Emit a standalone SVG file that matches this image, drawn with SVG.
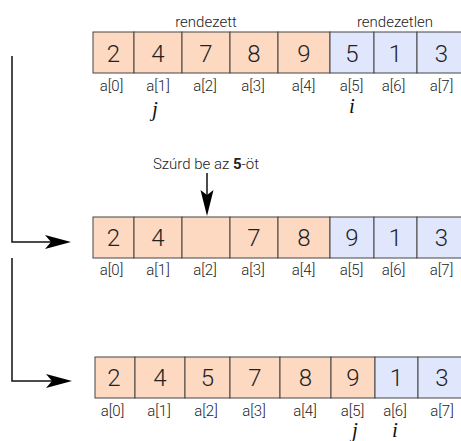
<svg xmlns="http://www.w3.org/2000/svg" width="461" height="441" viewBox="0 0 461 441">
  <style>
    .org { fill: #fdd9c2; stroke: #444; stroke-width: 1; }
    .blu { fill: #e0e7fd; stroke: #444; stroke-width: 1; }
    .num { font-family: Roboto, "Liberation Sans", sans-serif; font-weight: 300; font-size: 24px; fill: #222; text-anchor: middle; }
    .idx { font-family: Roboto, "Liberation Sans", sans-serif; font-weight: 300; font-size: 15px; fill: #222; text-anchor: middle; }
    .lbl { font-family: Roboto, "Liberation Sans", sans-serif; font-weight: 300; font-size: 15px; fill: #222; text-anchor: middle; }
    .var { font-family: "Liberation Serif", "DejaVu Serif", serif; font-style: italic; font-size: 21px; fill: #111; text-anchor: middle; }
    .line { fill: none; stroke: #111; stroke-width: 1.5; }
    .head { fill: #000; stroke: none; }
  </style>

  <!-- row 1: sorted part a[0..4], unsorted a[5..7] -->
  <g id="row1">
    <text class="lbl" x="206" y="27">rendezett</text>
    <text class="lbl" x="395" y="27">rendezetlen</text>
    <rect class="org" x="93" y="32" width="41" height="41"/>
    <rect class="org" x="134" y="32" width="48" height="41"/>
    <rect class="org" x="182" y="32" width="48" height="41"/>
    <rect class="org" x="230" y="32" width="48" height="41"/>
    <rect class="org" x="278" y="32" width="52" height="41"/>
    <rect class="blu" x="330" y="32" width="44" height="41"/>
    <rect class="blu" x="374" y="32" width="43" height="41"/>
    <rect class="blu" x="417" y="32" width="49" height="41"/>
    <text class="num" x="113.5" y="62">2</text>
    <text class="num" x="158" y="62">4</text>
    <text class="num" x="206" y="62">7</text>
    <text class="num" x="254" y="62">8</text>
    <text class="num" x="304" y="62">9</text>
    <text class="num" x="352" y="62">5</text>
    <text class="num" x="395.5" y="62">1</text>
    <text class="num" x="441.5" y="62">3</text>
    <text class="idx" x="111.5" y="91">a[0]</text>
    <text class="idx" x="158" y="91">a[1]</text>
    <text class="idx" x="205" y="91">a[2]</text>
    <text class="idx" x="253" y="91">a[3]</text>
    <text class="idx" x="303.5" y="91">a[4]</text>
    <text class="idx" x="351.5" y="91">a[5]</text>
    <text class="idx" x="393.5" y="91">a[6]</text>
    <text class="idx" x="441.5" y="91">a[7]</text>
    <text class="var" x="155" y="116">j</text>
    <text class="var" x="352" y="113">i</text>
  </g>

  <!-- row 2: gap opened at a[2] -->
  <g id="row2">
    <text class="lbl" x="206" y="169">Szúrd be az <tspan font-weight="700">5</tspan>-öt</text>
    <rect class="org" x="93" y="217" width="41" height="41"/>
    <rect class="org" x="134" y="217" width="48" height="41"/>
    <rect class="org" x="182" y="217" width="48" height="41"/>
    <rect class="org" x="230" y="217" width="48" height="41"/>
    <rect class="org" x="278" y="217" width="52" height="41"/>
    <rect class="blu" x="330" y="217" width="44" height="41"/>
    <rect class="blu" x="374" y="217" width="43" height="41"/>
    <rect class="blu" x="417" y="217" width="49" height="41"/>
    <text class="num" x="113.5" y="246">2</text>
    <text class="num" x="158" y="246">4</text>
    <text class="num" x="254" y="246">7</text>
    <text class="num" x="304" y="246">8</text>
    <text class="num" x="352" y="246">9</text>
    <text class="num" x="395.5" y="246">1</text>
    <text class="num" x="441.5" y="246">3</text>
    <text class="idx" x="111.5" y="275">a[0]</text>
    <text class="idx" x="158" y="275">a[1]</text>
    <text class="idx" x="205" y="275">a[2]</text>
    <text class="idx" x="253" y="275">a[3]</text>
    <text class="idx" x="303.5" y="275">a[4]</text>
    <text class="idx" x="351.5" y="275">a[5]</text>
    <text class="idx" x="393.5" y="275">a[6]</text>
    <text class="idx" x="441.5" y="275">a[7]</text>
  </g>

  <!-- row 3: 5 inserted, sorted part a[0..5] -->
  <g id="row3">
    <rect class="org" x="95" y="357" width="40" height="41"/>
    <rect class="org" x="135" y="357" width="50" height="41"/>
    <rect class="org" x="185" y="357" width="45" height="41"/>
    <rect class="org" x="230" y="357" width="50" height="41"/>
    <rect class="org" x="280" y="357" width="51" height="41"/>
    <rect class="org" x="331" y="357" width="44" height="41"/>
    <rect class="blu" x="375" y="357" width="43" height="41"/>
    <rect class="blu" x="418" y="357" width="48" height="41"/>
    <text class="num" x="114" y="386">2</text>
    <text class="num" x="160" y="386">4</text>
    <text class="num" x="207.5" y="386">5</text>
    <text class="num" x="255" y="386">7</text>
    <text class="num" x="305.5" y="386">8</text>
    <text class="num" x="353" y="386">9</text>
    <text class="num" x="396.5" y="386">1</text>
    <text class="num" x="442" y="386">3</text>
    <text class="idx" x="112.5" y="416">a[0]</text>
    <text class="idx" x="159" y="416">a[1]</text>
    <text class="idx" x="206" y="416">a[2]</text>
    <text class="idx" x="254" y="416">a[3]</text>
    <text class="idx" x="305" y="416">a[4]</text>
    <text class="idx" x="352.5" y="416">a[5]</text>
    <text class="idx" x="395" y="416">a[6]</text>
    <text class="idx" x="442" y="416">a[7]</text>
    <text class="var" x="355" y="437">j</text>
    <text class="var" x="395" y="437">i</text>
  </g>

  <!-- connectors -->
  <g id="connectors">
    <polyline class="line" points="12,56 12,242 52,242"/>
    <path class="head" d="M71,242 L45,235 L51,242 L45,249 Z"/>
    <polyline class="line" points="12,258 12,381 52,381"/>
    <path class="head" d="M72,381 L46,374 L52,381 L46,388 Z"/>
    <line class="line" x1="207" y1="173" x2="207" y2="200"/>
    <path class="head" d="M207,216 L200.5,190 L207,195 L213.5,190 Z"/>
  </g>
</svg>
